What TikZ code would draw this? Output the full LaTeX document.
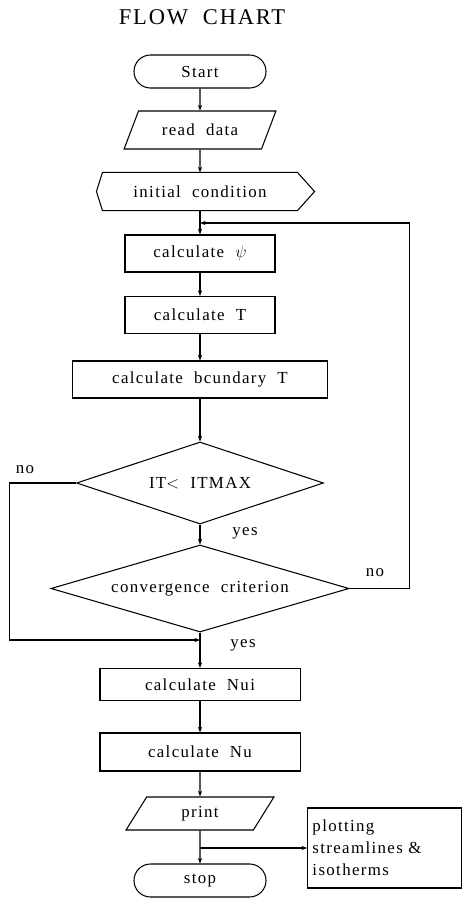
\documentclass[tikz,border=0pt]{standalone}
\usepackage{fontspec}
\setmainfont{Liberation Serif}[LetterSpace=8,WordSpace=2]
\usetikzlibrary{shapes.geometric,shapes.misc,arrows.meta}
\begin{document}
\begin{tikzpicture}[x=0.025cm, y=-0.025cm, line width=0.75pt,
  every node/.style={font=\fontsize{12}{15.5}\selectfont},
  box/.style={draw, rectangle, minimum height=0.925cm, inner sep=0pt},
  term/.style={draw, rounded rectangle, minimum width=3.3cm, minimum height=0.825cm, inner sep=0pt},
  io/.style={draw, trapezium, trapezium stretches=true, inner sep=0pt},
  test/.style={draw, diamond, inner sep=0pt},
  flow/.style={-{Stealth[length=4pt,width=3pt]}}]
\useasboundingbox (0,0) rectangle (463,899);
\node[font=\fontsize{16}{18}\selectfont] (title) at (202,17) {FLOW CHART};
\node[term] (start) at (200,71.5) {Start};
\node[io, trapezium left angle=53, trapezium right angle=127, minimum width=3.8cm, minimum height=0.95cm] (read) at (200,130) {read data};
\node[box, draw=none, minimum width=4.85cm] (ic) at (200,191.5) {initial condition};
\draw (ic.north west) -- (ic.north east) -- ([xshift=0.425cm]ic.east) -- (ic.south east) -- (ic.south west) -- ([xshift=-0.15cm]ic.west) -- cycle;
\foreach \nm/\y/\w/\h/\txt in {psi/253.5/3.75cm/0.925cm/calculate $\psi$,T/315/3.75cm/0.925cm/calculate T,bT/379.5/6.375cm/0.925cm/calculate bcundary T,Nui/684.5/5cm/0.8cm/calculate Nui,Nu/752/5cm/0.95cm/calculate Nu}
  \node[box, minimum width=\w, minimum height=\h] (\nm) at (200,\y) {\txt};
\node[test, aspect=3, minimum width=6.175cm, minimum height=2.05cm] (d1) at (200,483) {IT$<$ ITMAX};
\node[test, aspect=3.4, minimum width=7.45cm, minimum height=2.175cm] (d2) at (200,588.5) {convergence criterion};
\node[io, trapezium left angle=64, trapezium right angle=116, minimum width=3.7cm, minimum height=0.825cm] (print) at (200,813.5) {print};
\node[draw, rectangle, minimum width=3.825cm, minimum height=2cm, text width=3.6cm, align=left, inner sep=0.12cm] (plot) at (384.5,848) {plotting\\streamlines \&\\isotherms};
\node[term] (stop) at (200,880.5) {stop};
\coordinate (j1) at (200,223);
\coordinate (j2) at (200,640);
\coordinate (j3) at (200,848);
\foreach \a/\b in {start/read,read/ic,ic/psi,psi/T,T/bT,bT/d1,d1/d2,d2/Nui,Nui/Nu,Nu/print,print/stop}
  \draw[flow] (\a) -- (\b);
\draw[flow] (d2.east) -- ++(60,0) |- (j1);
\draw[flow] (d1.west) -- ++(-66,0) |- (j2);
\draw[flow] (j3) -- (plot.west);
\node (no1) at (25,470) {no};
\node (yes1) at (245,533) {yes};
\node (no2) at (375,573) {no};
\node (yes2) at (243,645) {yes};
\end{tikzpicture}
\end{document}
